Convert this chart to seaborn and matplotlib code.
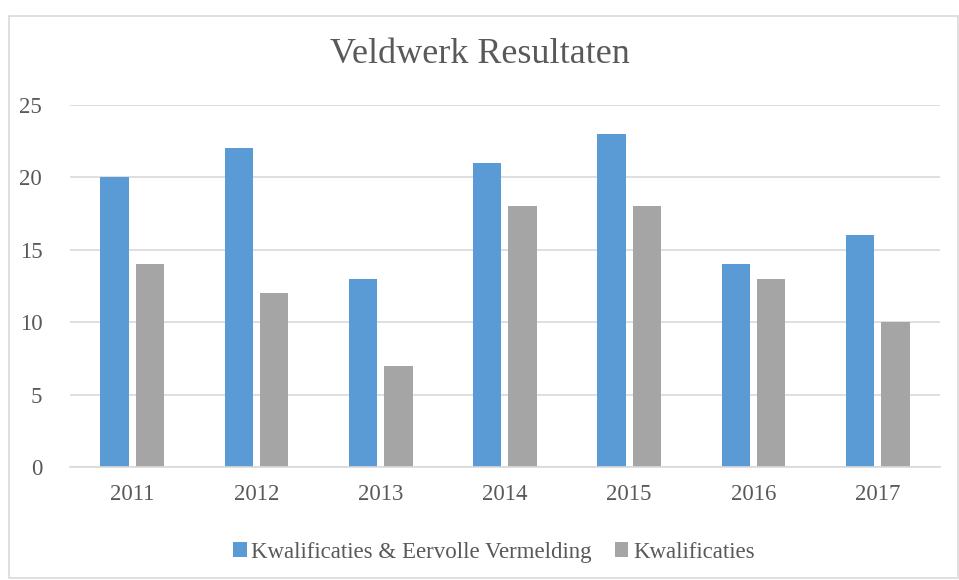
import pandas as pd
import matplotlib.pyplot as plt
import seaborn as sns
from matplotlib.patches import Rectangle

# data
years = ["2011", "2012", "2013", "2014", "2015", "2016", "2017"]
kwal_eervol = [20, 22, 13, 21, 23, 14, 16]
kwal = [14, 12, 7, 18, 18, 13, 10]
series_names = ["Kwalificaties & Eervolle Vermelding", "Kwalificaties"]

df = pd.DataFrame({
    "jaar": years * 2,
    "aantal": kwal_eervol + kwal,
    "reeks": [series_names[0]] * len(years) + [series_names[1]] * len(years),
})

sns.set_theme(style="white")
plt.rcParams["font.family"] = ["Liberation Serif", "DejaVu Serif"]
text_col = "#595959"

fig = plt.figure(figsize=(9.59, 5.80), dpi=100)
ax = fig.add_axes([0.073, 0.195, 0.907, 0.624])

sns.barplot(data=df, x="jaar", y="aantal", hue="reeks", order=years,
            hue_order=series_names, palette=["#5B9BD5", "#A5A5A5"],
            saturation=1, width=0.57, gap=0.2, linewidth=0,
            ax=ax, legend=True)

ax.set_ylim(0, 25)
ax.set_yticks(range(0, 26, 5))
ax.yaxis.grid(True, color="#D9D9D9", linewidth=1.2)
ax.set_axisbelow(True)
for s in ["top", "right", "left"]:
    ax.spines[s].set_visible(False)
ax.spines["bottom"].set_color("#D9D9D9")
ax.spines["bottom"].set_linewidth(1.2)
ax.set_xlabel("")
ax.set_ylabel("")
ax.tick_params(axis="both", colors=text_col, labelsize=16.5, length=0)
ax.tick_params(axis="y", pad=20)
ax.tick_params(axis="x", pad=12)

fig.suptitle("Veldwerk Resultaten", y=0.935, fontsize=26, color=text_col)

ax.legend(loc="upper center", bbox_to_anchor=(0.487, -0.15), ncol=2,
          frameon=False, fontsize=16.5, labelcolor=text_col,
          handlelength=0.6, handleheight=0.6, handletextpad=0.2,
          columnspacing=1.0)

# outer chart border
fig.patches.append(Rectangle((0.009, 0.004), 0.99, 0.968, transform=fig.transFigure,
                             fill=False, edgecolor="#D9D9D9", linewidth=1.2))

fig.savefig("out.png", dpi=100)
